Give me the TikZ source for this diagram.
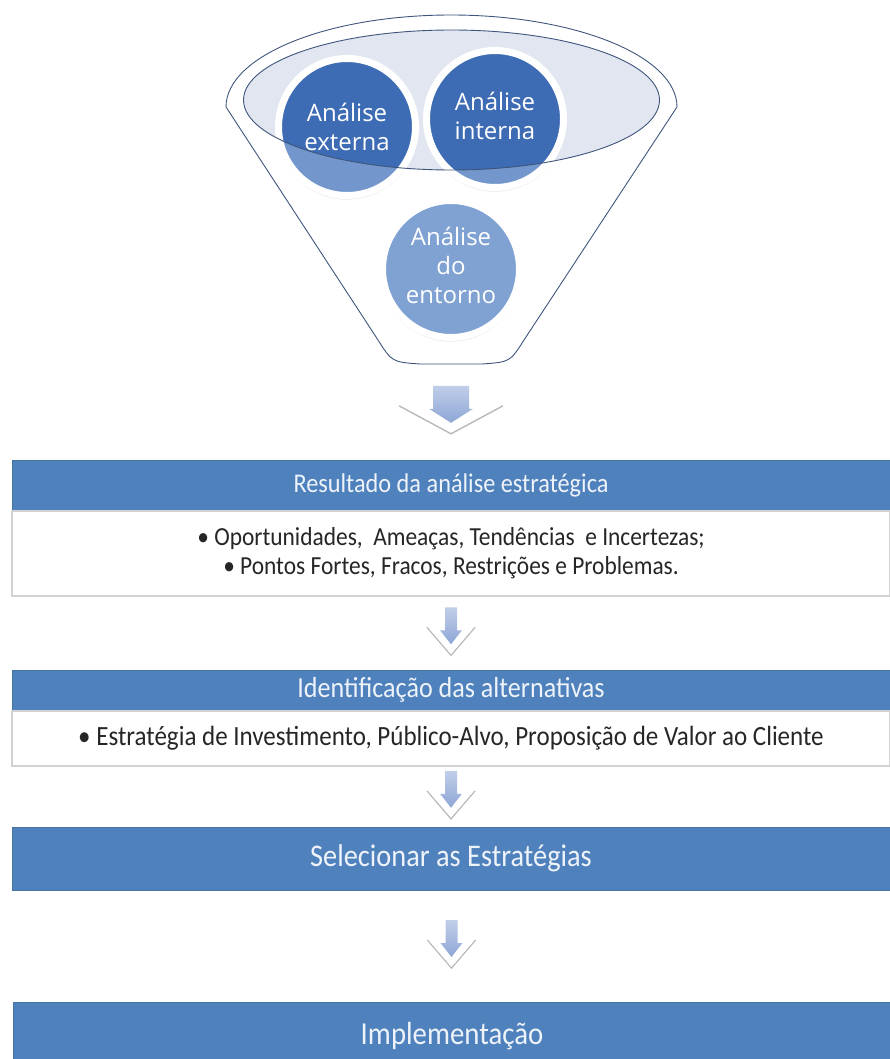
\documentclass[tikz,border=0pt]{standalone}
\usepackage{fontspec}
\setmainfont{Carlito}[FakeStretch=0.9]
\newfontfamily\bubblefont{Open Sans}
\usetikzlibrary{shadows,calc}

\definecolor{hdrblue}{HTML}{4F81BD}
\definecolor{hdrline}{HTML}{46739F}
\definecolor{hdrtext}{HTML}{EEF3FA}
\definecolor{circdark}{HTML}{3D6CB4}
\definecolor{circlight}{HTML}{7397CC}
\definecolor{circpale}{HTML}{7FA2D3}
\definecolor{ellfill}{HTML}{E1E6F0}
\definecolor{funline}{HTML}{3F557D}
\definecolor{arrblue}{HTML}{8EA6D6}
\definecolor{chevgray}{HTML}{B8B8B8}

\tikzset{
  bubble/.style={circle, minimum size=137pt, inner sep=0pt, draw=white,
    line width=7pt, align=center, text=white,
    font=\bubblefont\fontsize{24}{29}\selectfont,
    drop shadow={opacity=0.18, shadow xshift=0pt, shadow yshift=-2pt, shadow scale=1.03}},
  upper/.style={path picture={\fill[circdark] (ellc) ellipse[x radius=208pt, y radius=70pt];}},
  hdr/.style={rectangle, fill=hdrblue, draw=hdrline, line width=0.8pt,
    text=hdrtext, minimum width=878pt, inner sep=0pt,
    font=\fontsize{27}{30}\selectfont},
  bodybox/.style={rectangle, fill=white, draw=gray!35, line width=1.5pt,
    minimum width=878pt, inner sep=0pt, align=center, text=black!85,
    font=\fontsize{26}{29}\selectfont},
  pics/flowarrow/.style n args={3}{code={
    \shade[top color=arrblue!55, bottom color=arrblue]
      (-#1,-26) -- (#1,-26) -- (#1,-3) -- (#2,-3) -- (0,11) -- (-#2,-3) -- (-#1,-3) -- cycle;
    \draw[chevgray, line width=1.4pt] (-#3,-6) -- (0,22) -- (#3,-6);
    \draw[white, line width=2.5pt] (-#3,-9) -- (0,19) -- (#3,-9);
  }}
}

\begin{document}
\begin{tikzpicture}[x=1pt,y=-1pt]
\useasboundingbox (0,0) rectangle (889,1059);

% funil
\coordinate (ellc) at (451.5,100);
\coordinate (funbot) at (451,364);
\draw[funline, line width=0.9pt] (226,107) .. controls (226,56) and (327,15) .. (451,15)
   .. controls (575,15) and (677,56) .. (677,107) -- (524,340)
   .. controls (510,362) .. (482,364) -- (420,364)
   .. controls (392,362) .. (378,340) -- cycle;
\fill[ellfill] (ellc) ellipse[x radius=208pt, y radius=70pt];

\node[bubble, upper, fill=circlight] (ext) at (347,127) {Análise\\externa};
\node[bubble, upper, fill=circlight] (int) at (495,119)
   {\raisebox{5pt}{\begin{tabular}{@{}c@{}}Análise\\interna\end{tabular}}};
\draw[funline, line width=0.9pt] (ellc) ellipse[x radius=208pt, y radius=70pt];
\node[bubble, fill=circpale] (ent) at (451,269)
   {\raisebox{12pt}{\begin{tabular}{@{}c@{}}Análise\\do\\entorno\end{tabular}}};

% caixas
\node[hdr, minimum height=50pt] (hdrA) at (451,485) {Resultado da análise estratégica};
\node[bodybox, minimum height=85pt, anchor=north] (bodyA) at (hdrA.south)
   {• Oportunidades,\ \ Ameaças, Tendências\ \ e Incertezas;\\ • Pontos Fortes, Fracos, Restrições e Problemas.};

\node[hdr, minimum height=40pt, font=\fontsize{29}{30}\selectfont] (hdrB) at (451,690) {Identificação das alternativas};
\node[bodybox, minimum height=55pt, anchor=north, font=\fontsize{27.8}{30}\selectfont] (bodyB) at (hdrB.south)
   {• Estratégia de Investimento, Público-Alvo, Proposição de Valor ao Cliente};

\node[hdr, minimum height=63pt, font=\fontsize{31.5}{33}\selectfont] (boxC) at (451,858.5) {Selecionar as Estratégias};
\node[hdr, minimum height=68pt, font=\fontsize{32}{33}\selectfont] (boxD) at (452,1036) {Implementação};

% setas
\pic at ($(funbot)!0.5!(hdrA.north)$) {flowarrow={18}{22}{52}};
\pic at ($(bodyA.south)!0.5!(hdrB.north)$) {flowarrow={6}{11}{24}};
\pic at ($(bodyB.south)!0.5!(boxC.north)$) {flowarrow={6}{11}{24}};
\pic at ($(boxC.south)!0.5!(boxD.north)$) {flowarrow={6}{11}{24}};
\end{tikzpicture}
\end{document}
